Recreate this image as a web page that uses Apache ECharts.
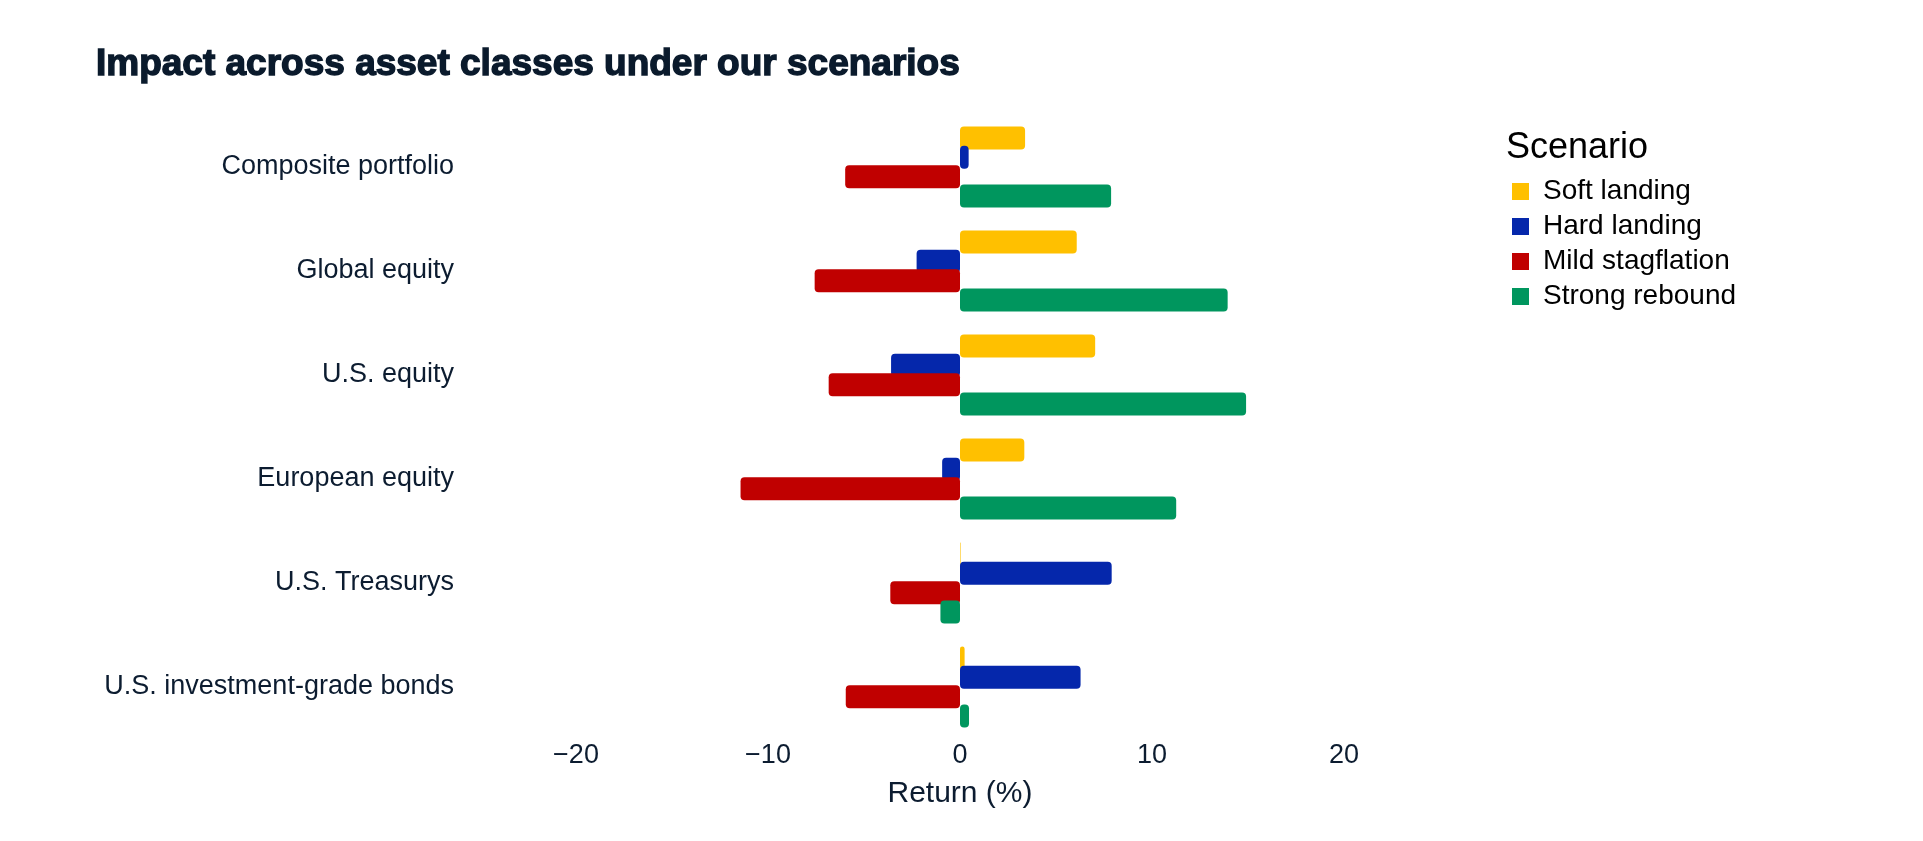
<!DOCTYPE html>
<html>
<head>
<meta charset="utf-8">
<script src="https://cdn.jsdelivr.net/npm/echarts@6/dist/echarts.min.js"></script>
<style>html,body{margin:0;padding:0;background:#fff;}#c{width:1923px;height:841px;}</style>
</head>
<body>
<div id="c"></div>
<script>
const categories = ['Composite portfolio','Global equity','U.S. equity','European equity','U.S. Treasurys','U.S. investment-grade bonds'];
const scenarios = ['Soft landing','Hard landing','Mild stagflation','Strong rebound'];
const softLanding = [3.39, 6.08, 7.04, 3.35, 0.03, 0.24];
const hardLanding = [0.45, -2.26, -3.59, -0.93, 7.9, 6.28];
const mildStagflation = [-5.98, -7.57, -6.84, -11.43, -3.63, -5.95];
const strongRebound = [7.87, 13.94, 14.9, 11.26, -1.02, 0.47];
const xTicks = [-20, -10, 0, 10, 20];
const colors = ['#FFC000', '#0527AB', '#C00000', '#00965E'];
const seriesValues = [softLanding, hardLanding, mildStagflation, strongRebound];

const chart = echarts.init(document.getElementById('c'));
chart.setOption({
  animation: false,
  title: [
    { text: 'Impact across asset classes under our scenarios', left: 91, top: 41,
      textStyle: { fontFamily: 'Liberation Sans', fontWeight: 'bold', fontSize: 37, color: '#0a1a2c',
        textBorderColor: '#0a1a2c', textBorderWidth: 1.4 } },
    { text: 'Scenario', left: 1501, top: 125,
      textStyle: { fontFamily: 'Liberation Sans', fontWeight: 'normal', fontSize: 36, color: '#000' } }
  ],
  legend: {
    orient: 'vertical', left: 1507, top: 169, icon: 'rect', itemWidth: 17, itemHeight: 17, itemGap: 0,
    data: scenarios,
    textStyle: { fontFamily: 'Liberation Sans', fontSize: 28, color: '#000', lineHeight: 35, padding: [0,0,0,9] }
  },
  grid: { left: 576, right: 579, top: 115, bottom: 102, containLabel: false },
  xAxis: {
    type: 'value', min: -20, max: 20, interval: 10,
    name: 'Return (%)', nameLocation: 'middle', nameGap: 40,
    nameTextStyle: { fontFamily: 'Liberation Sans', fontSize: 30, color: '#0c1c30' },
    axisLine: { show: false }, axisTick: { show: false }, splitLine: { show: false },
    axisLabel: { margin: 3, fontFamily: 'Liberation Sans', fontSize: 27, color: '#0c1c30',
      formatter: v => xTicks.includes(v) ? (v < 0 ? '\u2212' + Math.abs(v) : String(v)) : '' }
  },
  yAxis: {
    type: 'category', data: categories, inverse: true,
    axisLine: { show: false }, axisTick: { show: false }, splitLine: { show: false },
    axisLabel: { margin: 122, fontFamily: 'Liberation Sans', fontSize: 27, color: '#0c1c30' }
  },
  series: scenarios.map((name, i) => ({
    name, type: 'bar', data: seriesValues[i], barWidth: 23, barGap: '-16%',
    itemStyle: { color: colors[i], borderRadius: 4 }
  }))
});
</script>
</body>
</html>
